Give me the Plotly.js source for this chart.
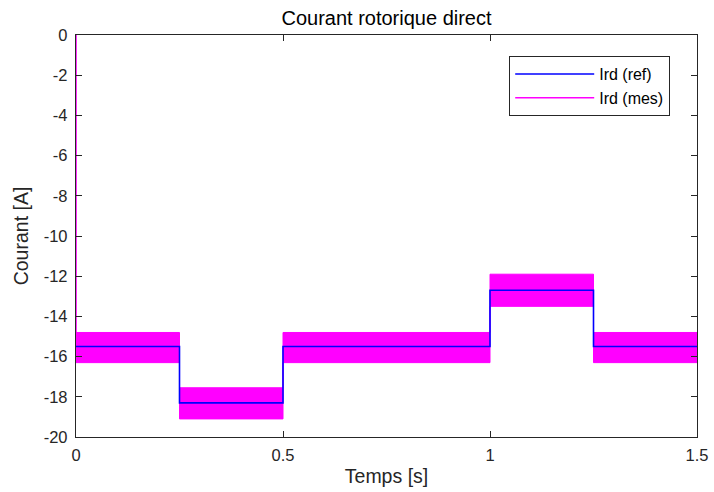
<!DOCTYPE html>
<html>
<head>
<meta charset="utf-8">
<script src="https://cdn.plot.ly/plotly-3.0.1.min.js"></script>
<style>html,body{margin:0;padding:0;background:#fff;}#chart{width:714px;height:492px;}</style>
</head>
<body>
<div id="chart"></div>
<script>
// Step times [s]
const times = [0, 0.25, 0.5, 1.0, 1.25, 1.5];
// Reference rotor current Ird (ref) [A]
const irdRef = [-15.5, -18.3, -15.5, -12.7, -15.5, -15.5];
// Measured current envelope (upper / lower) [A]
const irdMesUpper = [-14.8, -17.55, -14.8, -11.9, -14.8, -14.8];
const irdMesLower = [-16.3, -19.1, -16.3, -13.5, -16.3, -16.3];
// Initial transient of measured current
const startT = [0, 0];
const startI = [0, -15.0];
// Tick labels
const xTicks = [0, 0.5, 1, 1.5];
const xTickText = ["0", "0.5", "1", "1.5"];
const yTicks = [0, -2, -4, -6, -8, -10, -12, -14, -16, -18, -20];
const yTickText = yTicks.map(v => String(v));

const magenta = '#ff00ff';
const blue = '#0000ff';
const ink = '#262626';
const font = 'Liberation Sans, Arial, sans-serif';

const traces = [
  {x: times, y: irdMesLower, mode: 'lines', line: {shape: 'hv', color: magenta, width: 1}, showlegend: false, hoverinfo: 'skip'},
  {x: times, y: irdMesUpper, mode: 'lines', line: {shape: 'hv', color: magenta, width: 1}, fill: 'tonexty', fillcolor: magenta, showlegend: false, hoverinfo: 'skip'},
  {x: times, y: irdRef, mode: 'lines', name: 'Ird (ref)', line: {shape: 'hv', color: blue, width: 1.6}},
  {x: startT, y: startI, mode: 'lines', name: 'Ird (mes)', line: {color: magenta, width: 1.6}, cliponaxis: false}
];

const axisCommon = {
  showgrid: false, zeroline: false, showline: true, linecolor: ink, linewidth: 1.2,
  mirror: 'allticks', ticks: 'inside', ticklen: 6, tickcolor: ink, tickwidth: 1,
  tickfont: {family: font, size: 16.5, color: ink}
};

const layout = {
  width: 714, height: 492,
  margin: {l: 76, r: 17, t: 35, b: 55},
  paper_bgcolor: '#fff', plot_bgcolor: '#fff',
  title: {text: 'Courant rotorique direct', x: 0.5, xref: 'paper', y: 1 - 18/492, yref: 'container', yanchor: 'middle',
          font: {family: font, size: 20, color: '#000'}},
  xaxis: Object.assign({}, axisCommon, {range: [0, 1.5], tickvals: xTicks, ticktext: xTickText, ticklabelstandoff: 3,
          title: {text: 'Temps [s]', standoff: 6, font: {family: font, size: 19.5, color: ink}}}),
  yaxis: Object.assign({}, axisCommon, {range: [-20, 0], tickvals: yTicks, ticktext: yTickText, ticklabelstandoff: 4,
          title: {text: 'Courant [A]', standoff: 9, font: {family: font, size: 19.5, color: ink}}}),
  legend: {x: (509-76)/621, xanchor: 'left', y: 0.948, yanchor: 'top', bgcolor: '#fff', bordercolor: ink, borderwidth: 1.2,
           traceorder: 'normal',
           font: {family: font, size: 16, color: '#000'}, itemwidth: 79, tracegroupgap: 0}
};

Plotly.newPlot('chart', traces, layout, {displayModeBar: false, staticPlot: true});
</script>
</body>
</html>
